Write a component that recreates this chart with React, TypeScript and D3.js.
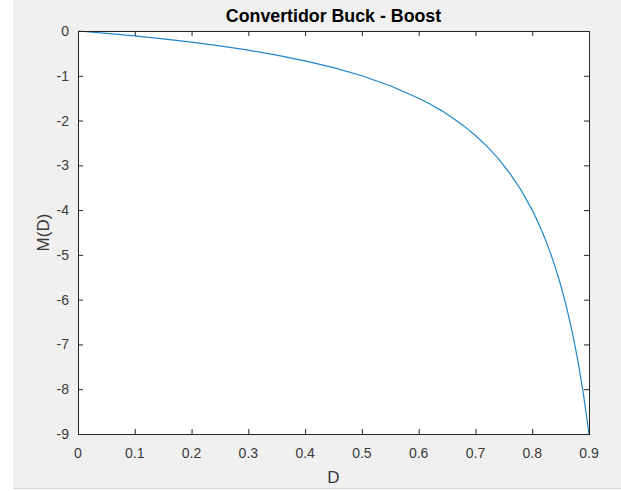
import React from "react";
import * as d3 from "d3";

// values
const dutyValues = [
  0, 0.05, 0.1, 0.15, 0.2, 0.25, 0.3, 0.35, 0.4, 0.45, 0.5, 0.55, 0.6, 0.62, 0.64,
  0.66, 0.68, 0.7, 0.72, 0.74, 0.76, 0.78, 0.8, 0.81, 0.82, 0.83, 0.84, 0.85, 0.86,
  0.87, 0.88, 0.89, 0.9,
];
const gainValues = [
  0, -0.053, -0.111, -0.176, -0.25, -0.333, -0.429, -0.538, -0.667, -0.818, -1.0,
  -1.222, -1.5, -1.632, -1.778, -1.941, -2.125, -2.333, -2.571, -2.846, -3.167,
  -3.545, -4.0, -4.263, -4.556, -4.882, -5.25, -5.667, -6.143, -6.692, -7.333,
  -8.091, -9.0,
];
const xTicks = [0, 0.1, 0.2, 0.3, 0.4, 0.5, 0.6, 0.7, 0.8, 0.9];
const yTicks = [0, -1, -2, -3, -4, -5, -6, -7, -8, -9];

const W = 621;
const H = 491;
const LEFT = 78;
const RIGHT = 589;
const TOP = 31;
const BOTTOM = 434;
const TICK = 5;
const AXIS = "#262626";
const LABEL = "#3a3a3a";
const FONT = "'Liberation Sans', Arial, Helvetica, sans-serif";

export default function App() {
  const x = d3.scaleLinear().domain([0, 0.9]).range([LEFT, RIGHT]);
  const y = d3.scaleLinear().domain([-9, 0]).range([BOTTOM, TOP]);

  const points: [number, number][] = dutyValues.map((d, i) => [d, gainValues[i]]);
  const line = d3
    .line<[number, number]>()
    .x((d) => x(d[0]))
    .y((d) => y(d[1]));

  return (
    <svg
      width={W}
      height={H}
      style={{ position: "absolute", left: 0, top: 0, display: "block" }}
    >
      <rect x={0} y={0} width={W} height={H} fill="#ffffff" />
      <rect x={13} y={0} width={W - 13} height={488} fill="#f0f0f0" />
      <line x1={13} x2={W} y1={488.5} y2={488.5} stroke="#d7d7d7" />

      <rect x={LEFT} y={TOP} width={RIGHT - LEFT} height={BOTTOM - TOP} fill="#ffffff" />

      <path d={line(points) || ""} fill="none" stroke="#1f86cc" strokeWidth={1.2} />

      <g stroke={AXIS} strokeWidth={1}>
        {xTicks.map((t) => (
          <g key={"x" + t}>
            <line x1={x(t) + 0.5} x2={x(t) + 0.5} y1={BOTTOM} y2={BOTTOM - TICK} />
            <line x1={x(t) + 0.5} x2={x(t) + 0.5} y1={TOP} y2={TOP + TICK} />
          </g>
        ))}
        {yTicks.map((t) => (
          <g key={"y" + t}>
            <line x1={LEFT} x2={LEFT + TICK} y1={y(t) + 0.5} y2={y(t) + 0.5} />
            <line x1={RIGHT} x2={RIGHT - TICK} y1={y(t) + 0.5} y2={y(t) + 0.5} />
          </g>
        ))}
        <rect
          x={LEFT + 0.5}
          y={TOP + 0.5}
          width={RIGHT - LEFT}
          height={BOTTOM - TOP}
          fill="none"
        />
      </g>

      <g fontFamily={FONT} fontSize={14} fill={LABEL}>
        {xTicks.map((t) => (
          <text key={"xl" + t} x={x(t)} y={BOTTOM + 24} textAnchor="middle">
            {d3.format("~g")(t)}
          </text>
        ))}
        {yTicks.map((t) => (
          <text key={"yl" + t} x={LEFT - 9} y={y(t) + 5} textAnchor="end">
            {d3.format("~g")(t).replace("−", "-")}
          </text>
        ))}
      </g>

      <text
        x={(LEFT + RIGHT) / 2}
        y={22}
        textAnchor="middle"
        fontFamily={FONT}
        fontSize={17.8}
        fontWeight="bold"
        fill="#000000"
      >
        Convertidor Buck - Boost
      </text>
      <text
        x={(LEFT + RIGHT) / 2}
        y={483}
        textAnchor="middle"
        fontFamily={FONT}
        fontSize={17}
        fill={LABEL}
      >
        D
      </text>
      <text
        transform={`translate(49,${(TOP + BOTTOM) / 2}) rotate(-90)`}
        textAnchor="middle"
        fontFamily={FONT}
        fontSize={17}
        fill={LABEL}
      >
        M(D)
      </text>
    </svg>
  );
}
